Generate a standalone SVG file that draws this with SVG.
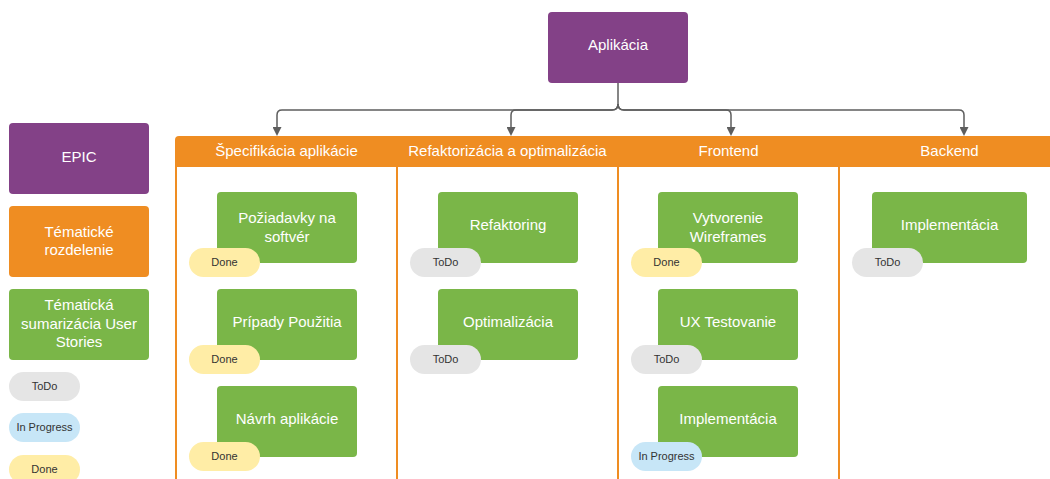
<svg xmlns="http://www.w3.org/2000/svg" width="1050" height="479" viewBox="0 0 1050 479">
<style>
text{font-family:"Liberation Sans",Arial,sans-serif;text-anchor:middle}
.epic{fill:#834187}
.theme{fill:#EF8D22}
.story{fill:#7AB648}
.todo{fill:#E5E5E5}
.prog{fill:#C7E6F7}
.done{fill:#FFEDA6}
.t15{font-size:15px;fill:#FFFFFF}
.t11{font-size:11px;fill:#333333}
.col{stroke:#EF8D22;stroke-width:2;fill:none}
.conn{stroke:#5E5E5E;stroke-width:1.5;fill:none}
</style>
<defs>
<marker id="arr" viewBox="0 0 9 9" refX="0" refY="4.5" markerWidth="9" markerHeight="9" markerUnits="userSpaceOnUse" orient="auto">
<path d="M0,0 L9,4.5 L0,9 z" fill="#5E5E5E"/>
</marker>
</defs>
<rect width="1050" height="479" fill="#FFFFFF"/>

<g id="root">
<rect class="epic" x="548" y="12" width="140" height="71" rx="4"/>
<text class="t15" x="618" y="50">Aplikácia</text>
</g>

<g id="connectors">
<path class="conn" d="M618,83 V106"/>
<path class="conn" d="M618,104 Q618,110 612,110 H282 Q277,110 277,115 V127" marker-end="url(#arr)"/>
<path class="conn" d="M618,104 Q618,110 612,110 H516 Q511,110 511,115 V127" marker-end="url(#arr)"/>
<path class="conn" d="M618,104 Q618,110 624,110 H726 Q731,110 731,115 V127" marker-end="url(#arr)"/>
<path class="conn" d="M618,104 Q618,110 624,110 H959 Q964,110 964,115 V127" marker-end="url(#arr)"/>
</g>

<g id="swimlanes">
<path class="theme" d="M175,140 Q175,136 179,136 H1050 V167 H175 Z"/>
<line class="col" x1="176" y1="166" x2="176" y2="479"/>
<line class="col" x1="397" y1="166" x2="397" y2="479"/>
<line class="col" x1="618" y1="166" x2="618" y2="479"/>
<line class="col" x1="839" y1="166" x2="839" y2="479"/>
<text class="t15" x="286.5" y="156">Špecifikácia aplikácie</text>
<text class="t15" x="507.5" y="156">Refaktorizácia a optimalizácia</text>
<text class="t15" x="728.5" y="156">Frontend</text>
<text class="t15" x="949.5" y="156">Backend</text>
</g>

<g id="legend-epic">
<rect class="epic" x="9" y="123" width="140" height="71" rx="4"/>
<text class="t15" x="79" y="162">EPIC</text>
</g>
<g id="legend-theme">
<rect class="theme" x="9" y="206" width="140" height="71" rx="4"/>
<text class="t15" x="79" y="237">Tématické</text>
<text class="t15" x="79" y="255">rozdelenie</text>
</g>
<g id="legend-story">
<rect class="story" x="9" y="289" width="140" height="71" rx="4"/>
<text class="t15" x="79" y="310">Tématická</text>
<text class="t15" x="79" y="328.5">sumarizácia User</text>
<text class="t15" x="79" y="347">Stories</text>
</g>
<g id="legend-todo">
<rect class="todo" x="9" y="372" width="71" height="29" rx="14.5"/>
<text class="t11" x="44.5" y="390">ToDo</text>
</g>
<g id="legend-progress">
<rect class="prog" x="9" y="413" width="71" height="29" rx="14.5"/>
<text class="t11" x="44.5" y="431">In Progress</text>
</g>
<g id="legend-done">
<rect class="done" x="9" y="455" width="71" height="29" rx="14.5"/>
<text class="t11" x="44.5" y="473">Done</text>
</g>

<!-- Column 1 -->
<g id="c1-poziadavky">
<rect class="story" x="217" y="192" width="140" height="71" rx="4"/>
<text class="t15" x="287" y="223">Požiadavky na</text>
<text class="t15" x="287" y="242">softvér</text>
<rect class="done" x="189" y="248" width="71" height="29" rx="14.5"/>
<text class="t11" x="224.5" y="266">Done</text>
</g>
<g id="c1-pripady">
<rect class="story" x="217" y="289" width="140" height="71" rx="4"/>
<text class="t15" x="287" y="327">Prípady Použitia</text>
<rect class="done" x="189" y="345" width="71" height="29" rx="14.5"/>
<text class="t11" x="224.5" y="363">Done</text>
</g>
<g id="c1-navrh">
<rect class="story" x="217" y="386" width="140" height="71" rx="4"/>
<text class="t15" x="287" y="424">Návrh aplikácie</text>
<rect class="done" x="189" y="442" width="71" height="29" rx="14.5"/>
<text class="t11" x="224.5" y="460">Done</text>
</g>

<!-- Column 2 -->
<g id="c2-refaktoring">
<rect class="story" x="438" y="192" width="140" height="71" rx="4"/>
<text class="t15" x="508" y="230">Refaktoring</text>
<rect class="todo" x="410" y="248" width="71" height="29" rx="14.5"/>
<text class="t11" x="445.5" y="266">ToDo</text>
</g>
<g id="c2-optimalizacia">
<rect class="story" x="438" y="289" width="140" height="71" rx="4"/>
<text class="t15" x="508" y="327">Optimalizácia</text>
<rect class="todo" x="410" y="345" width="71" height="29" rx="14.5"/>
<text class="t11" x="445.5" y="363">ToDo</text>
</g>

<!-- Column 3 -->
<g id="c3-wireframes">
<rect class="story" x="658" y="192" width="140" height="71" rx="4"/>
<text class="t15" x="728" y="223">Vytvorenie</text>
<text class="t15" x="728" y="242">Wireframes</text>
<rect class="done" x="631" y="248" width="71" height="29" rx="14.5"/>
<text class="t11" x="666.5" y="266">Done</text>
</g>
<g id="c3-ux">
<rect class="story" x="658" y="289" width="140" height="71" rx="4"/>
<text class="t15" x="728" y="327">UX Testovanie</text>
<rect class="todo" x="631" y="345" width="71" height="29" rx="14.5"/>
<text class="t11" x="666.5" y="363">ToDo</text>
</g>
<g id="c3-implementacia">
<rect class="story" x="658" y="386" width="140" height="71" rx="4"/>
<text class="t15" x="728" y="424">Implementácia</text>
<rect class="prog" x="631" y="442" width="71" height="29" rx="14.5"/>
<text class="t11" x="666.5" y="460">In Progress</text>
</g>

<!-- Column 4 -->
<g id="c4-implementacia">
<rect class="story" x="872" y="192" width="155" height="71" rx="4"/>
<text class="t15" x="949.5" y="230">Implementácia</text>
<rect class="todo" x="852" y="248" width="71" height="29" rx="14.5"/>
<text class="t11" x="887.5" y="266">ToDo</text>
</g>
</svg>
